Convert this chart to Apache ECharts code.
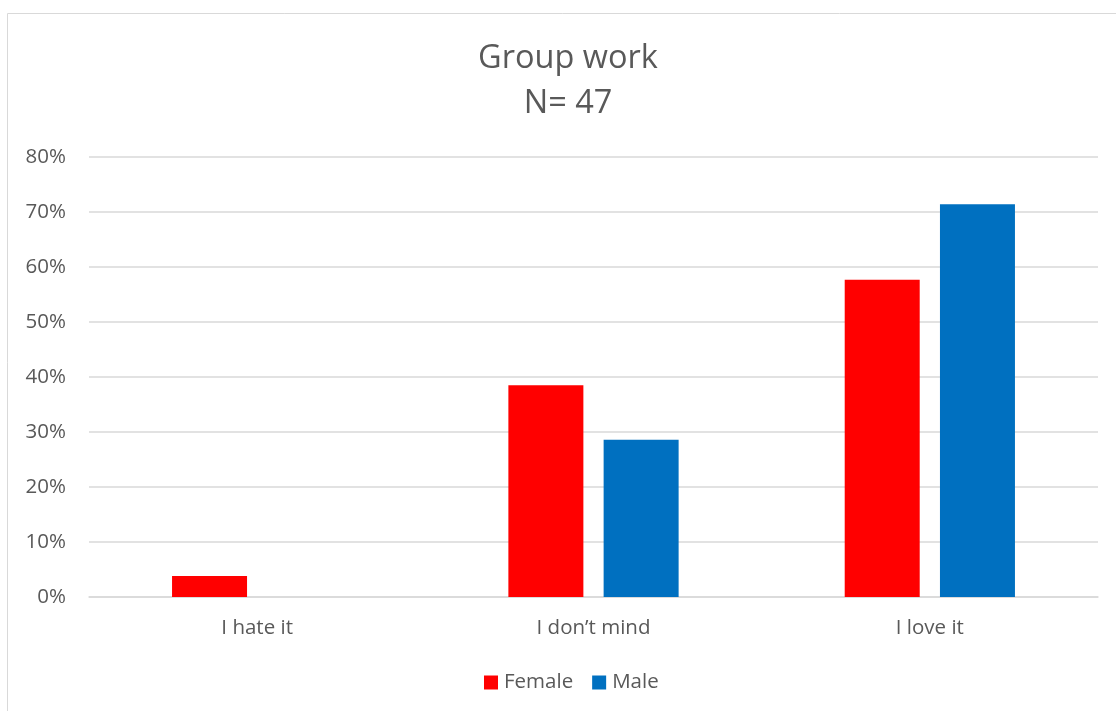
<!DOCTYPE html>
<html>
<head>
<meta charset="utf-8">
<script src="https://cdn.jsdelivr.net/npm/echarts@6/dist/echarts.min.js"></script>
<style>
  html, body { margin: 0; padding: 0; background: #fff; }
  #chart { width: 1116px; height: 711px; }
</style>
</head>
<body>
<div id="chart"></div>
<script>
// Survey answers on group work, share of each gender (N = 47)
const categories = ['I hate it', 'I don\u2019t mind', 'I love it'];
const female = [0.038, 0.385, 0.577];
const male = [0, 0.286, 0.714];
const seriesNames = ['Female', 'Male'];

const textColor = '#595959';
const fontFamily = '"Open Sans", "Noto Sans", sans-serif';

const chart = echarts.init(document.getElementById('chart'));
chart.setOption({
  animation: false,
  textStyle: { fontFamily: fontFamily, color: textColor },
  graphic: [{
    type: 'rect',
    shape: { x: 7.5, y: 13.5, width: 1200, height: 800 },
    style: { fill: 'none', stroke: '#d9d9d9', lineWidth: 1 },
    silent: true
  }],
  title: {
    text: 'Group work\nN= 47',
    left: 563,
    top: 31,
    textAlign: 'center',
    textStyle: {
      fontFamily: fontFamily,
      fontWeight: 'normal',
      fontSize: 32.5,
      lineHeight: 45,
      color: textColor
    }
  },
  legend: {
    data: seriesNames,
    left: 484,
    bottom: 18,
    padding: 0,
    itemWidth: 14,
    itemHeight: 14,
    itemGap: 19,
    icon: 'rect',
    textStyle: { fontFamily: fontFamily, fontSize: 20.5, color: textColor, padding: [0, 0, 0, 1] }
  },
  grid: { left: 89, right: 18, top: 157, bottom: 114 },
  xAxis: {
    type: 'category',
    data: categories,
    axisLine: { lineStyle: { color: '#d9d9d9', width: 1.5 } },
    axisTick: { show: false },
    axisLabel: { fontFamily: fontFamily, fontSize: 20.5, color: textColor, margin: 21 }
  },
  yAxis: {
    type: 'value',
    min: 0,
    max: 0.8,
    interval: 0.1,
    axisLine: { show: false },
    axisTick: { show: false },
    splitLine: { lineStyle: { color: '#d9d9d9', width: 1.5 } },
    axisLabel: {
      fontFamily: fontFamily,
      fontSize: 20.5,
      color: textColor,
      margin: 23,
      formatter: v => Math.round(v * 100) + '%'
    }
  },
  series: [
    {
      name: seriesNames[0],
      type: 'bar',
      data: female,
      barWidth: 75,
      barGap: '27%',
      itemStyle: { color: '#FF0000' }
    },
    {
      name: seriesNames[1],
      type: 'bar',
      data: male,
      barWidth: 75,
      barGap: '27%',
      itemStyle: { color: '#0070C0' }
    }
  ]
});
</script>
</body>
</html>
